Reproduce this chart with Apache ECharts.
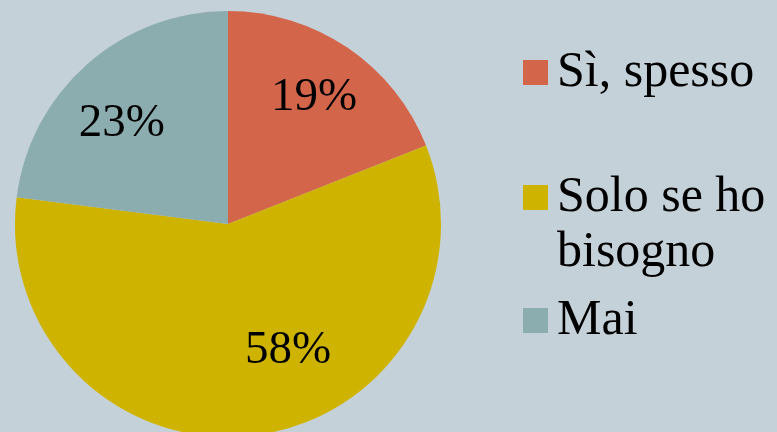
<!DOCTYPE html>
<html><head><meta charset="utf-8">
<script src="https://cdn.jsdelivr.net/npm/echarts@6/dist/echarts.min.js"></script>
<style>html,body{margin:0;padding:0;background:#c5d1d8}#c{width:777px;height:432px}</style>
</head><body><div id="c"></div>
<script>
const categories = ['Sì, spesso', 'Solo se ho bisogno', 'Mai'];
const values = [19, 58, 23];
const colors = ['#d3654b', '#ceb400', '#8cadaf'];

const chart = echarts.init(document.getElementById('c'));
const font = '"Liberation Serif", "Times New Roman", serif';
const data = categories.map((n, i) => ({ name: n, value: values[i], itemStyle: { color: colors[i] } }));
const labelOffsets = [[0, 0], [41, -25], [-5, 14]];
const labelData = categories.map((n, i) => ({
  name: n, value: values[i],
  label: { offset: labelOffsets[i] }
}));
function legendFor(i, top) {
  return {
    orient: 'vertical', left: 518, top: top,
    icon: 'rect', itemWidth: 25, itemHeight: 25, itemGap: 0,
    data: [categories[i]],
    formatter: n => n === 'Solo se ho bisogno' ? ' \nSolo se ho\nbisogno' : n,
    textStyle: { fontFamily: font, fontSize: 50, color: '#000', lineHeight: 55, padding: [0, 0, 0, 4] },
    selectedMode: false
  };
}
chart.setOption({
  backgroundColor: '#c5d1d8',
  animation: false,
  legend: [
    legendFor(0, 40),
    legendFor(1, 110),
    legendFor(2, 288)
  ],
  series: [
    {
      type: 'pie', center: [228, 224], radius: 213, startAngle: 90, clockwise: true,
      label: { show: false }, labelLine: { show: false }, emphasis: { disabled: true },
      data: data
    },
    {
      type: 'pie', center: [228, 224], radius: [87, 213], startAngle: 90, clockwise: true,
      itemStyle: { color: 'rgba(0,0,0,0)' }, labelLine: { show: false }, emphasis: { disabled: true },
      legendHoverLink: false, silent: true,
      label: { show: true, position: 'inside', formatter: '{c}%', fontFamily: font, fontSize: 47, color: '#000' },
      data: labelData
    }
  ]
});
</script></body></html>
